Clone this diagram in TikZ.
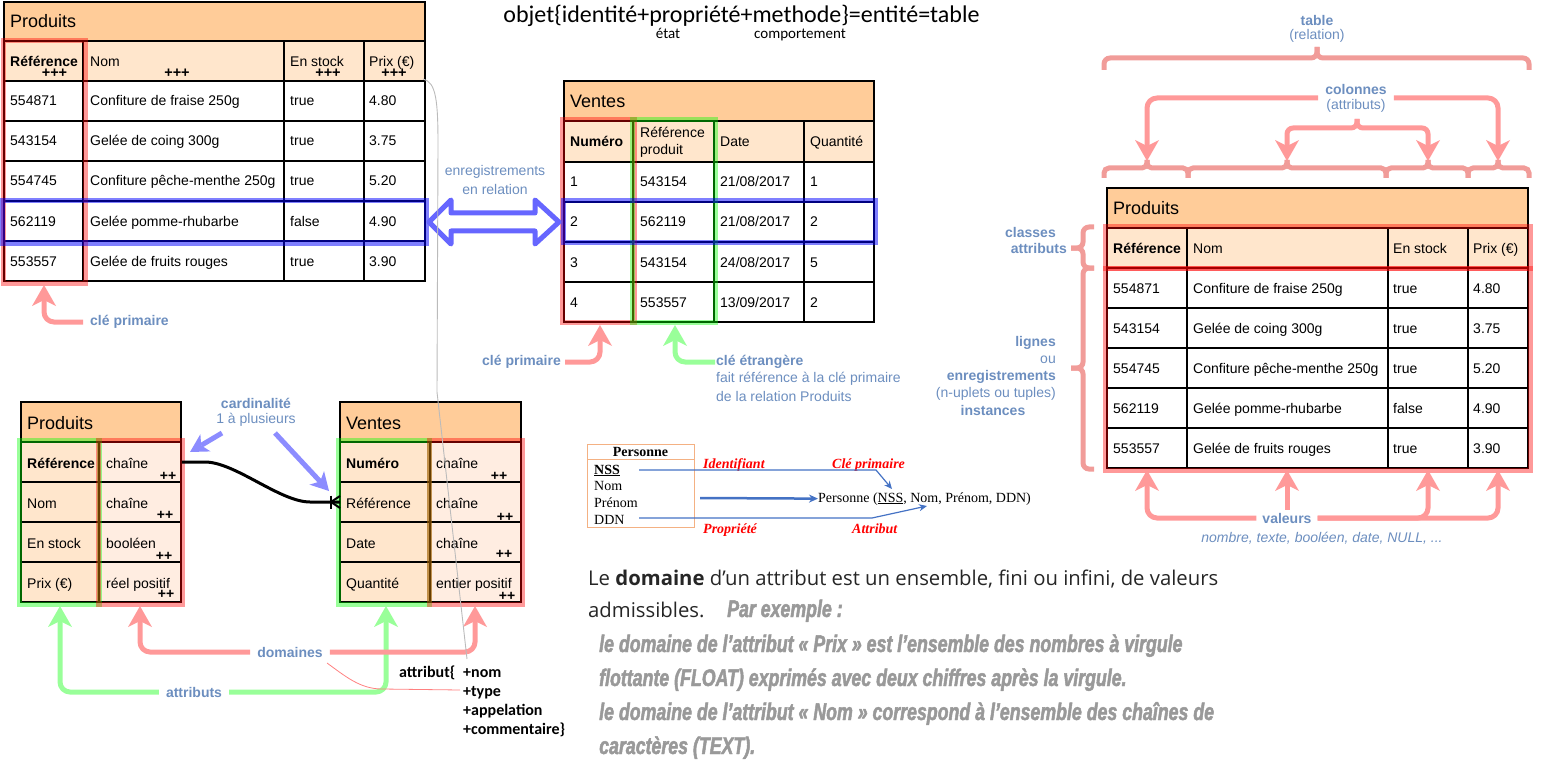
\documentclass[tikz,border=0pt]{standalone}
\usepackage{fontspec}
\setmainfont{Liberation Sans}
\newfontfamily\calibf{Carlito}
\newfontfamily\seriff{Liberation Serif}
\newfontfamily\opensf{Open Sans}
\newfontfamily\exf[FakeStretch=0.74, BoldItalicFeatures={FakeBold=2}]{Liberation Sans}
\usetikzlibrary{arrows.meta}
\definecolor{hdrorange}{HTML}{FFCC99}
\definecolor{colhdr}{HTML}{FFE6CC}
\definecolor{celllight}{HTML}{FFEDE1}
\definecolor{lblblue}{HTML}{6C8EBF}
\definecolor{pinkarr}{HTML}{FF9999}
\definecolor{greenarr}{HTML}{99FF99}
\definecolor{bracepink}{HTML}{F19C99}
\definecolor{dblblue}{HTML}{6666FF}
\definecolor{cardblue}{HTML}{8C8CFF}
\definecolor{persblue}{HTML}{4472C4}
\definecolor{persborder}{HTML}{F4B183}
\definecolor{exgray}{HTML}{999999}
\definecolor{thingray}{HTML}{BBBBBB}
\definecolor{thinred}{HTML}{FF8080}
\begin{document}
\begin{tikzpicture}[x=1pt,y=-1pt,
  tline/.style={draw=black, line width=1.8pt},
  cell/.style={font=\fontsize{14}{16}\selectfont, anchor=base west, inner sep=0pt},
  cellb/.style={font=\fontsize{14}{16}\selectfont\bfseries, anchor=base west, inner sep=0pt},
  ttl/.style={font=\fontsize{18}{20}\selectfont, anchor=base west, inner sep=0pt},
  plus/.style={font=\fontsize{14.5}{14}\selectfont\bfseries, inner sep=0pt},
  pluss/.style={font=\fontsize{14}{14}\selectfont\bfseries, inner sep=0pt},
  lbl/.style={font=\fontsize{14}{16}\selectfont, text=lblblue, inner sep=0pt},
  lblb/.style={font=\fontsize{14}{16}\selectfont\bfseries, text=lblblue, inner sep=0pt},
  hlred/.style={draw=red, draw opacity=0.4, line width=5pt},
  hlgreen/.style={draw=green, draw opacity=0.4, line width=5pt},
  hlblue/.style={draw=blue, draw opacity=0.5, line width=5pt},
  pinkarrow/.style={draw=pinkarr, line width=5pt, rounded corners=10pt, -{Stealth[length=21pt,width=24pt,inset=6pt,line width=0pt]}},
  greenarrow/.style={draw=greenarr, line width=5pt, rounded corners=10pt, -{Stealth[length=21pt,width=24pt,inset=6pt,line width=0pt]}},
  cardarrow/.style={draw=cardblue, line width=5pt, -{Stealth[length=18pt,width=20pt,inset=5pt,line width=0pt]}},
  brace/.style={draw=bracepink, line width=5pt, rounded corners=6pt},
  exline/.style={font=\exf\fontsize{24}{28}\selectfont\bfseries\itshape, text=exgray, anchor=base west, inner sep=0pt},
  pers/.style={font=\seriff\fontsize{14}{16}\selectfont, anchor=base west, inner sep=0pt},
  persred/.style={font=\seriff\fontsize{14}{16}\selectfont\bfseries\itshape, text=red, anchor=base west, inner sep=0pt},
  persarrow/.style={draw=persblue, line width=1.2pt, -{Stealth[length=8pt,width=7pt]}},
  calb/.style={font=\calibf\fontsize{16}{18}\selectfont\bfseries, anchor=base west, inner sep=0pt}
]
\useasboundingbox (0,0) rectangle (1542,762);

% ================= Formula =================
\node[font=\calibf\fontsize{24}{28}\selectfont, anchor=base, inner sep=0pt] (formula) at (741.5,23) {objet\{identité+propriété+methode\}=entité=table};
\node[font=\calibf\fontsize{15}{17}\selectfont, anchor=base, inner sep=0pt] (etat) at (668,38.5) {état};
\node[font=\calibf\fontsize{15}{17}\selectfont, anchor=base, inner sep=0pt] (comp) at (800,38.5) {comportement};

% ================= Table A (top-left Produits) =================
\draw[tline, fill=hdrorange] (4,2) rectangle (425,41);
\draw[tline, fill=colhdr] (4,41) rectangle (425,81);
\draw[tline, fill=white] (4,81) rectangle (425,281);
\foreach \yy in {121,161,201,241} \draw[tline] (4,\yy) -- (425,\yy);
\foreach \xx in {83,284,364} \draw[tline] (\xx,41) -- (\xx,281);
\node[ttl] (A-t) at (10,27.5) {Produits};
\node[cellb] (A-h1) at (10,67) {Référence};
\node[cell] (A-h2) at (90,67) {Nom};
\node[cell] (A-h3) at (290,67) {En stock};
\node[cell] (A-h4) at (369,67) {Prix (€)};
\node[plus] (A-p1) at (54.5,73.5) {+++};
\node[plus] (A-p2) at (177,73.5) {+++};
\node[plus] (A-p3) at (328,73.5) {+++};
\node[plus] (A-p4) at (394,73.5) {+++};
\foreach \ra/\rb/\rc/\rd [count=\i] in {554871/Confiture de fraise 250g/true/4.80, 543154/Gelée de coing 300g/true/3.75, 554745/Confiture pêche-menthe 250g/true/5.20, 562119/Gelée pomme-rhubarbe/false/4.90, 553557/Gelée de fruits rouges/true/3.90}{
  \node[cell] (A-\i-1) at (10,{66+40*\i}) {\ra};
  \node[cell] (A-\i-2) at (90,{66+40*\i}) {\rb};
  \node[cell] (A-\i-3) at (290,{66+40*\i}) {\rc};
  \node[cell] (A-\i-4) at (369,{66+40*\i}) {\rd};
}
\draw[hlred] (3.5,40.5) rectangle (85,283);
\draw[hlblue] (2.5,200.5) rectangle (426,243);

% ================= Table B (top Ventes) =================
\draw[tline, fill=hdrorange] (564,81) rectangle (874,121);
\draw[tline, fill=colhdr] (564,121) rectangle (874,162);
\draw[tline, fill=white] (564,162) rectangle (874,322);
\foreach \yy in {202,242,282} \draw[tline] (564,\yy) -- (874,\yy);
\foreach \xx in {633,714,804} \draw[tline] (\xx,121) -- (\xx,322);
\node[ttl] (B-t) at (570,107.5) {Ventes};
\node[cellb] (B-h1) at (570,147) {Numéro};
\node[cell] (B-h2a) at (640,138) {Référence};
\node[cell] (B-h2b) at (640,155) {produit};
\node[cell] (B-h3) at (720,147) {Date};
\node[cell] (B-h4) at (810,147) {Quantité};
\node[cell] (B-1-1) at (570,187) {1};
\node[cell] (B-1-2) at (640,187) {543154};
\node[cell] (B-1-3) at (720,187) {21/08/2017};
\node[cell] (B-1-4) at (810,187) {1};
\node[cell] (B-2-1) at (570,227) {2};
\node[cell] (B-2-2) at (640,227) {562119};
\node[cell] (B-2-3) at (720,227) {21/08/2017};
\node[cell] (B-2-4) at (810,227) {2};
\node[cell] (B-3-1) at (570,267) {3};
\node[cell] (B-3-2) at (640,267) {543154};
\node[cell] (B-3-3) at (720,267) {24/08/2017};
\node[cell] (B-3-4) at (810,267) {5};
\node[cell] (B-4-1) at (570,307) {4};
\node[cell] (B-4-2) at (640,307) {553557};
\node[cell] (B-4-3) at (720,307) {13/09/2017};
\node[cell] (B-4-4) at (810,307) {2};
\draw[hlred] (562.5,119.5) rectangle (634.5,322.5);
\draw[hlgreen] (632.5,119.5) rectangle (715.5,322.5);
\draw[hlblue] (563.5,200.5) rectangle (875.5,242.5);

% double arrow between related rows
\draw[draw=dblblue, line width=5pt, line join=round] (429,222) -- (451,200) -- (451,213) -- (535,213) -- (535,200) -- (559,222) -- (535,244) -- (535,231) -- (451,231) -- (451,244) -- cycle;
\node[lbl] (enr1) at (495,172) {enregistrements};
\node[lbl] (enr2) at (495,189) {en relation};

% keys labels
\node[lblb, anchor=west] (cp1) at (90,322) {clé primaire};
\coordinate (A-kb) at (44,285);
\draw[pinkarrow] ([xshift=-7pt]cp1.west) -| (A-kb);
\node[lblb, anchor=east] (cp2) at (561,362) {clé primaire};
\coordinate (B-kb) at (600,325);
\draw[pinkarrow] ([xshift=4pt]cp2.east) -| (B-kb);
\node[lblb, anchor=west] (ce) at (716,362) {clé étrangère};
\node[lbl, anchor=west] (ce2) at (716,379) {fait référence à la clé primaire};
\node[lbl, anchor=west] (ce3) at (716,396) {de la relation Produits};
\coordinate (B-fb) at (675,325);
\draw[greenarrow] ([xshift=-1pt]ce.west) -| (B-fb);

% ================= Table C (right Produits) =================
\draw[tline, fill=hdrorange] (1107,188) rectangle (1528,228);
\draw[tline, fill=colhdr] (1107,228) rectangle (1528,268);
\draw[tline, fill=white] (1107,268) rectangle (1528,468);
\foreach \yy in {308,348,388,428} \draw[tline] (1107,\yy) -- (1528,\yy);
\foreach \xx in {1187,1388,1468} \draw[tline] (\xx,228) -- (\xx,468);
\node[ttl] (C-t) at (1113,214.5) {Produits};
\node[cellb] (C-h1) at (1113,253) {Référence};
\node[cell] (C-h2) at (1193,253) {Nom};
\node[cell] (C-h3) at (1393,253) {En stock};
\node[cell] (C-h4) at (1473,253) {Prix (€)};
\foreach \ra/\rb/\rc/\rd [count=\i] in {554871/Confiture de fraise 250g/true/4.80, 543154/Gelée de coing 300g/true/3.75, 554745/Confiture pêche-menthe 250g/true/5.20, 562119/Gelée pomme-rhubarbe/false/4.90, 553557/Gelée de fruits rouges/true/3.90}{
  \node[cell] (C-\i-1) at (1113,{253+40*\i}) {\ra};
  \node[cell] (C-\i-2) at (1193,{253+40*\i}) {\rb};
  \node[cell] (C-\i-3) at (1393,{253+40*\i}) {\rc};
  \node[cell] (C-\i-4) at (1473,{253+40*\i}) {\rd};
}
\draw[hlred] (1105,227) rectangle (1530,268);
\draw[hlred] (1105,268) rectangle (1530,470);

% braces above right table
\node[lblb] (tab1) at (1317,20) {table};
\node[lbl] (tab2) at (1317,36) {(relation)};
\draw[brace] (1104,70) |- (1317,58) -- (1317,47);
\draw[brace] (1529,70) |- (1317,58) -- (1317,47);
\foreach \xl/\xm/\xr in {1104/1147/1188, 1188/1287/1386, 1386/1428/1468, 1468/1498/1529}{
  \draw[brace, rounded corners=5pt] (\xl,178) |- (\xm,168) -- (\xm,160);
  \draw[brace, rounded corners=5pt] (\xr,178) |- (\xm,168) -- (\xm,160);
}
\node[lblb] (col1) at (1356,89) {colonnes};
\node[lbl] (col2) at (1356,106) {(attributs)};
\coordinate (C-c1) at (1147,161);
\coordinate (C-c2) at (1287,161);
\coordinate (C-c3) at (1428,161);
\coordinate (C-c4) at (1498,161);
\draw[pinkarrow] ([xshift=-7pt]col1.west |- 0,98) -| (C-c1);
\draw[pinkarrow] ([xshift=7pt]col1.east |- 0,98) -| (C-c4);
\draw[pinkarrow, rounded corners=6pt] (1357,119) |- (1287,128) -- (C-c2);
\draw[pinkarrow, rounded corners=6pt] (1357,119) |- (1428,128) -- (C-c3);

% left braces
\draw[brace] (1094,227) -| (1083,248) -- (1071,248);
\draw[brace] (1094,268) -| (1083,248) -- (1071,248);
\draw[brace] (1094,268) -| (1083,368) -- (1071,368);
\draw[brace] (1094,469) -| (1083,368) -- (1071,368);
\node[lblb, anchor=east] (cls1) at (1056,232) {classes};
\node[lblb, anchor=east] (cls2) at (1067,248) {attributs};
\node[lblb, anchor=east] (lg1) at (1056,343) {lignes};
\node[lbl, anchor=east] (lg2) at (1056,360) {ou};
\node[lblb, anchor=east] (lg3) at (1056,377) {enregistrements};
\node[lbl, anchor=east] (lg4) at (1056,394) {(n-uplets ou tuples)};
\node[lblb] (lg5) at (993,410) {instances};

% valeurs
\node[lblb] (val) at (1287,518) {valeurs};
\node[lbl, font=\fontsize{14}{16}\selectfont\itshape] (val2) at (1322,538) {nombre, texte, booléen, date, NULL, ...};
\coordinate (C-v1) at (1147,470);
\coordinate (C-v2) at (1287,470);
\coordinate (C-v3) at (1428,470);
\coordinate (C-v4) at (1498,470);
\draw[pinkarrow] ([xshift=-6pt]val.west) -| (C-v1);
\draw[pinkarrow] ([xshift=6pt]val.east) -| (C-v3);
\draw[pinkarrow] ([xshift=6pt]val.east) -| (C-v4);
\draw[pinkarrow] ([yshift=3pt]val.north) -- (C-v2);

% ================= Table D (bottom-left Produits) =================
\draw[tline, fill=hdrorange] (21,402) rectangle (181,442);
\fill[colhdr] (21,442) rectangle (99,602);
\fill[celllight] (99,442) rectangle (181,602);
\draw[tline] (21,442) rectangle (181,602);
\foreach \yy in {482,522,562} \draw[tline] (21,\yy) -- (181,\yy);
\draw[tline] (99,442) -- (99,602);
\node[ttl] (D-t) at (27,429) {Produits};
\node[cellb] (D-1-1) at (27,468) {Référence};
\node[cell] (D-1-2) at (106,468) {chaîne};
\node[cell] (D-2-1) at (27,508) {Nom};
\node[cell] (D-2-2) at (106,508) {chaîne};
\node[cell] (D-3-1) at (27,548) {En stock};
\node[cell] (D-3-2) at (106,548) {booléen};
\node[cell] (D-4-1) at (27,588) {Prix (€)};
\node[cell] (D-4-2) at (106,588) {réel positif};
\node[pluss] (D-p1) at (168,476) {++};
\node[pluss] (D-p2) at (165,515) {++};
\node[pluss] (D-p3) at (164,556) {++};
\node[pluss] (D-p4) at (166,594) {++};
\draw[hlgreen] (19.5,440.5) rectangle (99.5,604.5);
\draw[hlred] (98.5,440.5) rectangle (182.5,604.5);

% ================= Table E (bottom Ventes) =================
\draw[tline, fill=hdrorange] (340,402) rectangle (521,442);
\fill[colhdr] (340,442) rectangle (430,602);
\fill[celllight] (430,442) rectangle (521,602);
\draw[tline] (340,442) rectangle (521,602);
\foreach \yy in {482,522,562} \draw[tline] (340,\yy) -- (521,\yy);
\draw[tline] (430,442) -- (430,602);
\node[ttl] (E-t) at (346,429) {Ventes};
\node[cellb] (E-1-1) at (346,468) {Numéro};
\node[cell] (E-1-2) at (436,468) {chaîne};
\node[cell] (E-2-1) at (346,508) {Référence};
\node[cell] (E-2-2) at (436,508) {chaîne};
\node[cell] (E-3-1) at (346,548) {Date};
\node[cell] (E-3-2) at (436,548) {chaîne};
\node[cell] (E-4-1) at (346,588) {Quantité};
\node[cell] (E-4-2) at (436,588) {entier positif};
\node[pluss] (E-p1) at (499,476) {++};
\node[pluss] (E-p2) at (505,517) {++};
\node[pluss] (E-p3) at (504,554) {++};
\node[pluss] (E-p4) at (507,596) {++};
\draw[hlgreen] (338.5,440.5) rectangle (429.5,604.5);
\draw[hlred] (429.5,440.5) rectangle (522.5,604.5);

% relation connector with crow's foot
\coordinate (D-ref) at (182,462);
\coordinate (E-ref) at (340,502);
\draw[line width=3pt] (D-ref) -- (205,462) .. controls (235,462) and (280,502) .. (310,502) -- (E-ref);
\draw[line width=2.5pt] (331,495.5) -- (331,508.5);
\draw[line width=2pt] (331,502) -- (340,496) (331,502) -- (340,508);

% cardinalité
\node[lblb] (card1) at (256,403) {cardinalité};
\node[lbl] (card2) at (256,420) {1 à plusieurs};
\coordinate (cA) at (222,433);
\coordinate (cB) at (190,452);
\coordinate (cC) at (275,433);
\coordinate (cD) at (329,491);
\draw[cardarrow] (cA) -- (cB);
\draw[cardarrow] (cC) -- (cD);

% domaines / attributs
\node[lblb] (dom) at (290,652) {domaines};
\node[lblb] (att) at (194,692) {attributs};
\coordinate (D-dom) at (140,606);
\coordinate (E-dom) at (475,606);
\coordinate (D-att) at (60,606);
\coordinate (E-att) at (386,606);
\draw[greenarrow] ([xshift=-7pt]att.west) -| (D-att);
\draw[greenarrow] ([xshift=7pt]att.east) -| (E-att);
\draw[pinkarrow] ([xshift=-7pt]dom.west) -| (D-dom);
\draw[pinkarrow] ([xshift=7pt]dom.east) -| (E-dom);

% thin lines
\coordinate (g1) at (423,79);
\coordinate (g2) at (467,659);
\draw[thingray, line width=0.9pt] (g1) .. controls (436,82) and (438,100) .. (438,145) -- (437,392) -- (g2);
\coordinate (r1) at (327,663);
\coordinate (r2) at (460,690);
\draw[thinred, line width=0.8pt] (r1) .. controls (345,676) and (360,689) .. (382,689) -- (r2);

% attribut{...}
\node[calb] (at0) at (399,677) {attribut\{};
\node[calb] (at1) at (463,677) {+nom};
\node[calb] (at2) at (463,696) {+type};
\node[calb] (at3) at (463,715) {+appelation};
\node[calb] (at4) at (463,734) {+commentaire\}};

% ================= Personne =================
\draw[draw=persborder, line width=1pt] (587,444) rectangle (694,527);
\draw[draw=persborder, line width=1pt] (587,459) -- (694,459);
\node[pers, font=\seriff\fontsize{14}{16}\selectfont\bfseries, anchor=base] (pT) at (640.5,456) {Personne};
\node[pers, font=\seriff\fontsize{14}{16}\selectfont\bfseries] (pNSS) at (594,474) {\underline{NSS}};
\node[pers] (pNom) at (594,490) {Nom};
\node[pers] (pPre) at (594,507) {Prénom};
\node[pers] (pDDN) at (594,524) {DDN};
\node[pers] (prel) at (818,502) {Personne (\underline{NSS}, Nom, Prénom, DDN)};
\node[persred] (pid) at (703,468) {Identifiant};
\node[persred] (pcp) at (832,468) {Clé primaire};
\node[persred] (ppr) at (703,533) {Propriété};
\node[persred] (pat) at (852,533) {Attribut};
\draw[persarrow] (639,470) -- (876,470) -- (892,489);
\draw[persarrow] (639,518) -- (872,518) -- (927,506);
\draw[draw=persblue, line width=2.5pt, -{Stealth[length=9pt,width=8pt]}] (700,498) -- (prel.west);

% ================= Domaine text =================
\node[font=\opensf\fontsize{20.3}{24}\selectfont, text=black!85, anchor=base west, inner sep=0pt] (dm1) at (588,585) {Le \textbf{domaine} d’un attribut est un ensemble, fini ou infini, de valeurs};
\node[font=\opensf\fontsize{20.3}{24}\selectfont, text=black!85, anchor=base west, inner sep=0pt] (dm2) at (588,617) {admissibles.};
\node[exline] (ex0) at (727,617) {Par exemple :};
\node[exline] (ex1) at (599,652) {le domaine de l’attribut « Prix » est l’ensemble des nombres à virgule};
\node[exline] (ex2) at (599,686) {flottante (FLOAT) exprimés avec deux chiffres après la virgule.};
\node[exline] (ex3) at (599,720) {le domaine de l’attribut « Nom » correspond à l’ensemble des chaînes de};
\node[exline] (ex4) at (599,754) {caractères (TEXT).};
\end{tikzpicture}
\end{document}
